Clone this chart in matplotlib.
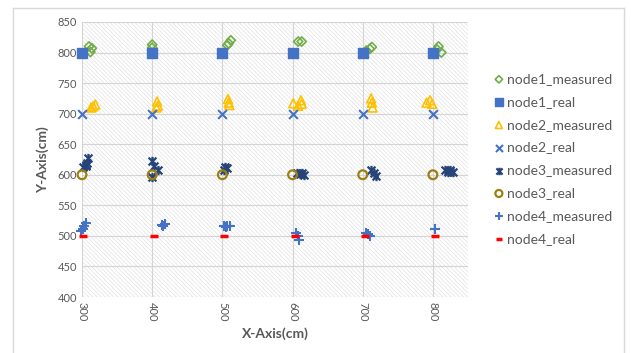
import matplotlib
matplotlib.use("Agg")
import matplotlib.pyplot as plt
from matplotlib.path import Path
from matplotlib.patches import Rectangle
import numpy as np

plt.rcParams['font.family'] = ['Lato', 'DejaVu Sans']
plt.rcParams['hatch.color'] = '#e2e2e2'
plt.rcParams['hatch.linewidth'] = 0.5

x_ticks = [300, 400, 500, 600, 700, 800]

node1_measured_x = [310, 314, 312, 400, 400, 507, 512, 509, 608, 613, 705, 710, 713, 808, 812, 806]
node1_measured_y = [810, 807, 801, 813, 808, 812, 820, 815, 818, 818, 803, 806, 809, 810, 800, 805]
node1_real_x = [300, 400, 500, 600, 700, 800]
node1_real_y = [800, 800, 800, 800, 800, 800]

node2_measured_x = [313, 316, 319, 407, 408, 406, 508, 510, 509, 601, 608, 612, 613, 712, 713, 714, 791, 796, 799]
node2_measured_y = [710, 712, 715, 720, 713, 710, 724, 714, 718, 717, 713, 722, 716, 725, 718, 710, 718, 722, 716]
node2_real_x = [300, 400, 500, 600, 700, 800]
node2_real_y = [700, 700, 700, 700, 700, 700]

node3_measured_x = [302, 305, 307, 309, 306, 400, 402, 408, 400, 502, 506, 504, 606, 610, 614, 617, 712, 716, 719, 817, 821, 825, 828]
node3_measured_y = [612, 616, 620, 627, 614, 622, 615, 608, 597, 608, 611, 613, 603, 601, 603, 600, 608, 603, 598, 608, 605, 608, 604]
node3_real_x = [300, 400, 500, 600, 700, 800]
node3_real_y = [600, 600, 600, 600, 600, 600]

node4_measured_x = [298, 302, 303, 306, 414, 418, 416, 502, 507, 511, 505, 605, 608, 609, 705, 708, 710, 803]
node4_measured_y = [508, 512, 516, 521, 518, 520, 517, 516, 517, 516, 515, 505, 500, 494, 505, 503, 500, 512]
node4_real_x = [302, 402, 503, 603, 703, 803]
node4_real_y = [500, 500, 500, 500, 500, 500]

# Excel-like star marker: X plus vertical bar
star_verts = [(-1, -1), (1, 1), (-1, 1), (1, -1), (0, -1.2), (0, 1.2)]
star_codes = [Path.MOVETO, Path.LINETO, Path.MOVETO, Path.LINETO, Path.MOVETO, Path.LINETO]
star_marker = Path(star_verts, star_codes)

fig = plt.figure(figsize=(6.31, 3.53), dpi=100)
# outer frame (no bottom edge)
fig.add_artist(plt.Line2D([13/631, 13/631], [0, 1 - 8/353], color='#d9d9d9', lw=1, transform=fig.transFigure))
fig.add_artist(plt.Line2D([13/631, 624/631], [1 - 8/353, 1 - 8/353], color='#d9d9d9', lw=1, transform=fig.transFigure))
fig.add_artist(plt.Line2D([624/631, 624/631], [0, 1 - 8/353], color='#d9d9d9', lw=1, transform=fig.transFigure))

ax = fig.add_axes([82/631, 1 - 297/353, (468 - 82)/631, (297 - 22)/353])
ax.set_xlim(300, 850)
ax.set_ylim(400, 850)
ax.add_patch(Rectangle((0, 0), 1, 1, transform=ax.transAxes, facecolor='white',
                       hatch='\\\\\\\\\\\\\\\\', edgecolor='#e2e2e2', lw=0, zorder=0))
for s in ax.spines.values():
    s.set_visible(False)
ax.set_xticks(x_ticks)
ax.set_yticks(np.arange(400, 851, 50))
ax.tick_params(length=0, colors='#595959', labelsize=8)
for lbl in ax.get_xticklabels():
    lbl.set_rotation(-90)
ax.grid(True, color='#d4d4d4', lw=0.8)
ax.set_axisbelow(True)

kw = dict(clip_on=False, zorder=3)
ax.scatter(node1_measured_x, node1_measured_y, marker='D', s=22, facecolors='none', edgecolors='#70ad47', linewidths=1.2, label='node1_measured', **kw)
ax.scatter(node1_real_x, node1_real_y, marker='s', s=50, color='#4472c4', label='node1_real', **kw)
ax.scatter(node2_measured_x, node2_measured_y, marker='^', s=40, facecolors='none', edgecolors='#ffc000', linewidths=1.2, label='node2_measured', **kw)
ax.scatter(node2_real_x, node2_real_y, marker='x', s=40, color='#4472c4', linewidths=1.5, label='node2_real', **kw)
ax.scatter(node3_measured_x, node3_measured_y, marker=star_marker, s=45, color='#264478', linewidths=1.6, label='node3_measured', **kw)
ax.scatter(node3_real_x, node3_real_y, marker='o', s=40, facecolors='none', edgecolors='#9e7f14', linewidths=1.6, label='node3_real', **kw)
ax.scatter(node4_measured_x, node4_measured_y, marker='+', s=50, color='#4472c4', linewidths=1.5, label='node4_measured', **kw)
ax.scatter(node4_real_x, node4_real_y, marker='_', s=35, color='#ff0000', linewidths=2.5, label='node4_real', **kw)

ax.set_xlabel('X-Axis(cm)', fontsize=10, fontweight='bold', color='#595959', labelpad=4)
ax.set_ylabel('Y-Axis(cm)', fontsize=10, fontweight='bold', color='#595959', labelpad=6)

leg = ax.legend(loc='upper left', bbox_to_anchor=(485/631, 1 - 66/353), bbox_transform=fig.transFigure,
                frameon=False, fontsize=10, handletextpad=0.1, labelspacing=0.78,
                handlelength=1.0, markerscale=0.8, borderpad=0)
for t in leg.get_texts():
    t.set_color('#595959')

fig.savefig('out.png', dpi=100)
